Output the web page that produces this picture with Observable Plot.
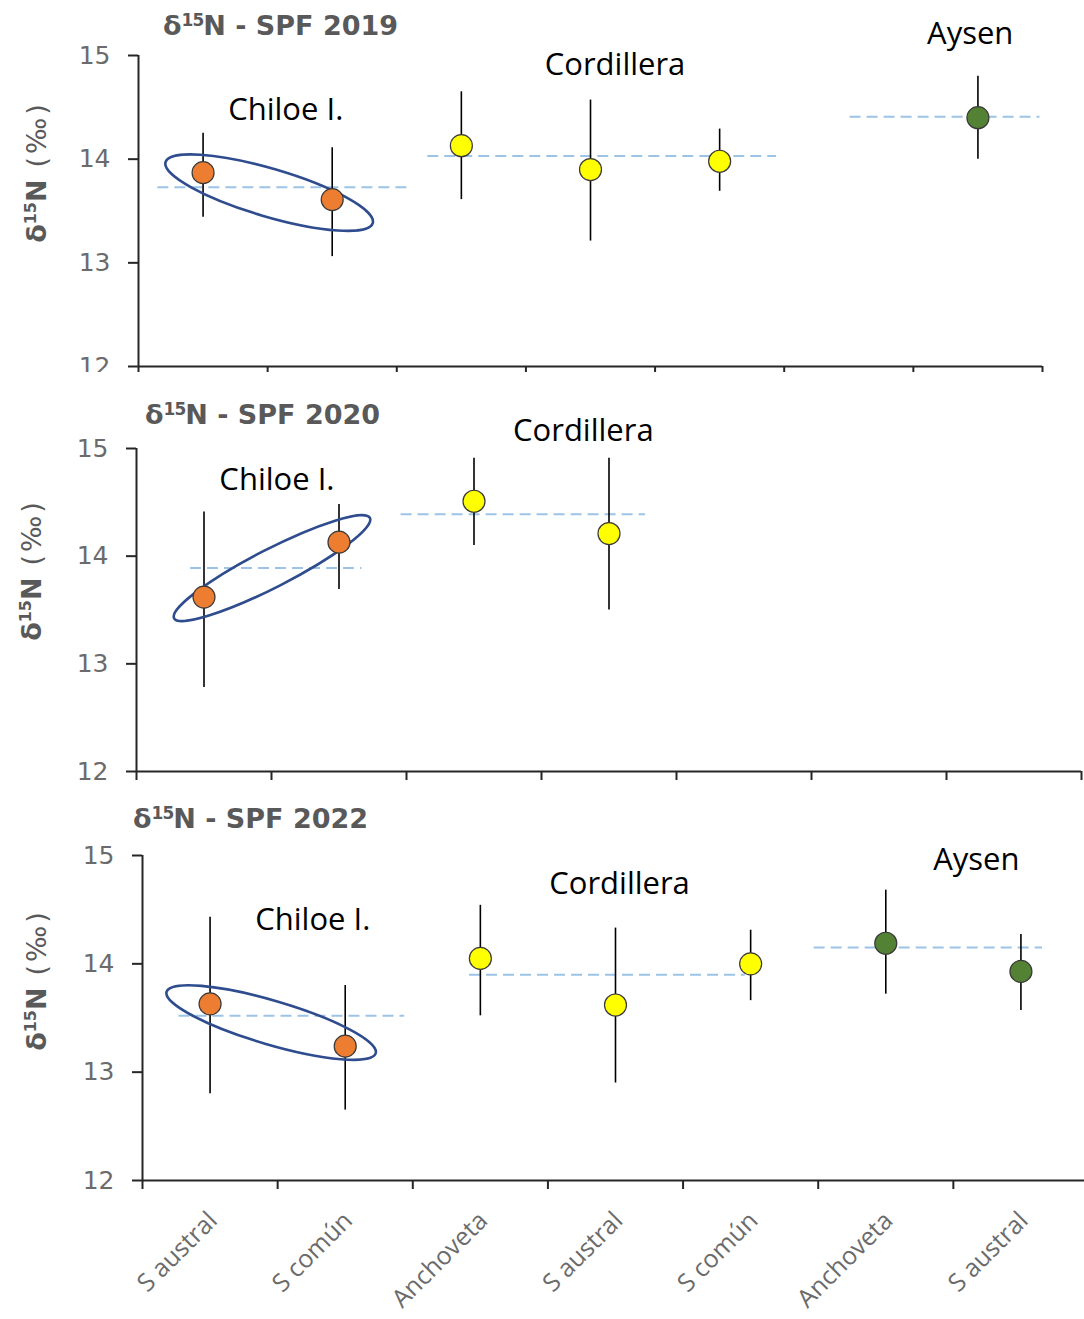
<!DOCTYPE html>
<html>
<head>
<meta charset="utf-8">
<script src="https://cdn.jsdelivr.net/npm/d3@7"></script>
<script src="https://cdn.jsdelivr.net/npm/@observablehq/plot@0.6"></script>
<style>
  body { margin: 0; background: #fff; }
  #wrap { position: relative; width: 1084px; height: 1319px; overflow: hidden; background: #fff; }
  .panel { position: absolute; left: 0; width: 1084px; overflow: hidden; }
  .title { position: absolute; font-family: "DejaVu Sans", sans-serif; font-weight: bold; color: #595959;
           font-size: 27px; line-height: 27px; white-space: nowrap; }
  .title sup { font-size: 17px; vertical-align: 0; position: relative; top: -9px; letter-spacing: -1px; }
  .ylab { position: absolute; font-family: "DejaVu Sans", sans-serif; color: #595959; font-size: 27px;
          line-height: 27px; white-space: nowrap; transform: translate(-50%, -50%) rotate(-90deg); }
  .ylab b sup { font-size: 16px; vertical-align: 0; position: relative; top: -10px; }
  .ylab span { letter-spacing: 3px; margin-left: 12px; }
  g[aria-label="y-axis tick"], g[aria-label="x-axis tick"] { color: #262626; stroke-width: 2; }
</style>
</head>
<body>
<div id="wrap"></div>
<script>
// ---------------- data ----------------
const categories = ["S austral", "S común", "Anchoveta", "S austral", "S común", "Anchoveta", "S austral"];
const groups = ["Chiloe I.", "Chiloe I.", "Cordillera", "Cordillera", "Cordillera", "Aysen", "Aysen"];
const groupNames = ["Chiloe I.", "Cordillera", "Aysen"];
const groupColors = ["#ED7D31", "#FFFF00", "#548235"];
const years = ["2019", "2020", "2022"];
const yTicks = [12, 13, 14, 15];

const mean2019 = [13.87, 13.61, 14.13, 13.90, 13.98, null, 14.40];
const low2019  = [13.44, 13.06, 13.61, 13.21, 13.69, null, 14.00];
const high2019 = [14.25, 14.11, 14.65, 14.57, 14.29, null, 14.80];
const groupMean2019 = [13.73, 14.03, 14.41];

const mean2020 = [13.62, 14.13, 14.51, 14.21, null, null, null];
const low2020  = [12.78, 13.69, 14.10, 13.50, null, null, null];
const high2020 = [14.41, 14.48, 14.91, 14.91, null, null, null];
const groupMean2020 = [13.89, 14.39, null];

const mean2022 = [13.63, 13.24, 14.05, 13.62, 14.00, 14.19, 13.93];
const low2022  = [12.80, 12.65, 13.52, 12.90, 13.66, 13.72, 13.57];
const high2022 = [14.43, 13.80, 14.54, 14.33, 14.31, 14.68, 14.27];
const groupMean2022 = [13.52, 13.90, 14.15];

// ---------------- layout ----------------
const panels = [
  { mean: mean2019, low: low2019, high: high2019, gmean: groupMean2019,
    top: 0, height: 372, ml: 138, mr: 42, mt: 55, mb: 6, catLabels: false,
    spans: [[-0.35, 1.58], [1.74, 4.44], [5.01, 6.48]],
    ann: [[0.64, 14.47], [3.19, 14.91], [5.94, 15.21]],
    ell: { a: 108, b: 24, turn: 4.6, dx: 2, dy: 7 },
    titleLeft: 163, titleTop: 12, ylab: [38, 172] },
  { mean: mean2020, low: low2020, high: high2020, gmean: groupMean2020,
    top: 380, height: 405, ml: 136, mr: 3, mt: 68, mb: 14, catLabels: false,
    spans: [[-0.1, 1.17], [1.46, 3.27], null],
    ann: [[0.54, 14.71], [2.81, 15.16], null],
    ell: { a: 110, b: 19, turn: -5, dx: 1, dy: -1 },
    titleLeft: 145, titleTop: 401, ylab: [33, 570] },
  { mean: mean2022, low: low2022, high: high2022, gmean: groupMean2022,
    top: 790, height: 529, ml: 142, mr: -4, mt: 65, mb: 139, catLabels: true,
    spans: [[-0.23, 1.44], [1.92, 3.96], [4.47, 6.16]],
    ann: [[0.76, 14.40], [3.03, 14.74], [5.67, 14.96]],
    ell: { a: 109, b: 22, turn: -1, dx: -6, dy: -2 },
    titleLeft: 133, titleTop: 805, ylab: [38, 980] }
];

const wrap = document.getElementById("wrap");
const xTicks = d3.range(0, categories.length + 1).map(k => k - 0.5);

function ellipseMark(pts, cfg) {
  return (index, scales) => {
    const ch = pts.filter(d => d.group === groupNames[0]);
    const [p, q] = ch.map(d => [scales.x(d.i), scales.y(d.mean)]);
    const cx = (p[0] + q[0]) / 2 + cfg.dx, cy = (p[1] + q[1]) / 2 + cfg.dy;
    const ang = Math.atan2(q[1] - p[1], q[0] - p[0]) * 180 / Math.PI + cfg.turn;
    const g = d3.create("svg:g");
    g.append("ellipse")
      .attr("rx", cfg.a).attr("ry", cfg.b)
      .attr("transform", `translate(${cx},${cy}) rotate(${ang})`)
      .attr("fill", "none").attr("stroke", "#2E4C8E").attr("stroke-width", 2.6);
    return g.node();
  };
}

panels.forEach((P, k) => {
  const pts = categories.map((c, i) => ({
    i, cat: c, group: groups[i], mean: P.mean[i], low: P.low[i], high: P.high[i],
    color: groupColors[groupNames.indexOf(groups[i])]
  })).filter(d => d.mean != null);

  const gm = groupNames.map((g, j) => ({ group: g, mean: P.gmean[j], span: P.spans[j] }))
    .filter(d => d.mean != null && d.span);
  const ann = groupNames.map((g, j) => ({ text: g, pos: P.ann[j] })).filter(d => d.pos);

  const marks = [
    Plot.ruleY(gm, { y: "mean", x1: d => d.span[0], x2: d => d.span[1],
      stroke: "#9DC3E6", strokeWidth: 2, strokeDasharray: "11,6" }),
    Plot.ruleX(pts, { x: "i", y1: "low", y2: "high", stroke: "#000", strokeWidth: 1.6 }),
    ellipseMark(pts, P.ell),
    Plot.dot(pts, { x: "i", y: "mean", r: 11, fill: "color", stroke: "#3a3a3a", strokeWidth: 1.2 }),
    Plot.ruleX([-0.5], { stroke: "#262626", strokeWidth: 2 }),
    Plot.ruleY([12], { stroke: "#262626", strokeWidth: 2 }),
    Plot.text(ann, { x: d => d.pos[0], y: d => d.pos[1], text: "text",
      fontFamily: "Open Sans", fontSize: 31, fill: "#000" })
  ];
  if (P.catLabels) {
    marks.push(Plot.text(categories.map((c, i) => ({ c, i })), {
      x: "i", y: () => 12, text: "c", rotate: -45, textAnchor: "end",
      dx: 3, dy: 36, fontFamily: "Open Sans", fontSize: 25, fill: "#6b6b6b"
    }));
  }

  const chart = Plot.plot({
    width: 1084, height: P.height,
    marginLeft: P.ml, marginRight: P.mr, marginTop: P.mt, marginBottom: P.mb,
    x: { domain: [-0.5, categories.length - 0.5], ticks: xTicks, tickFormat: () => "", tickSize: 9, label: null },
    y: { domain: [12, 15], ticks: yTicks, tickFormat: d3.format("d"), tickSize: 10, tickPadding: 18, label: null },
    color: { type: "identity" },
    style: { fontFamily: "DejaVu Sans", fontSize: "25px", color: "#6b6b6b", background: "transparent" },
    marks
  });

  const div = document.createElement("div");
  div.className = "panel";
  div.style.top = P.top + "px";
  div.style.height = P.height + "px";
  div.appendChild(chart);
  wrap.appendChild(div);

  const t = document.createElement("div");
  t.className = "title";
  t.style.left = P.titleLeft + "px";
  t.style.top = P.titleTop + "px";
  t.innerHTML = `δ<sup>15</sup>N - SPF ${years[k]}`;
  wrap.appendChild(t);

  const yl = document.createElement("div");
  yl.className = "ylab";
  yl.style.left = P.ylab[0] + "px";
  yl.style.top = P.ylab[1] + "px";
  yl.innerHTML = `<b>δ<sup>15</sup>N</b><span>(‰)</span>`;
  wrap.appendChild(yl);
});
</script>
</body>
</html>
